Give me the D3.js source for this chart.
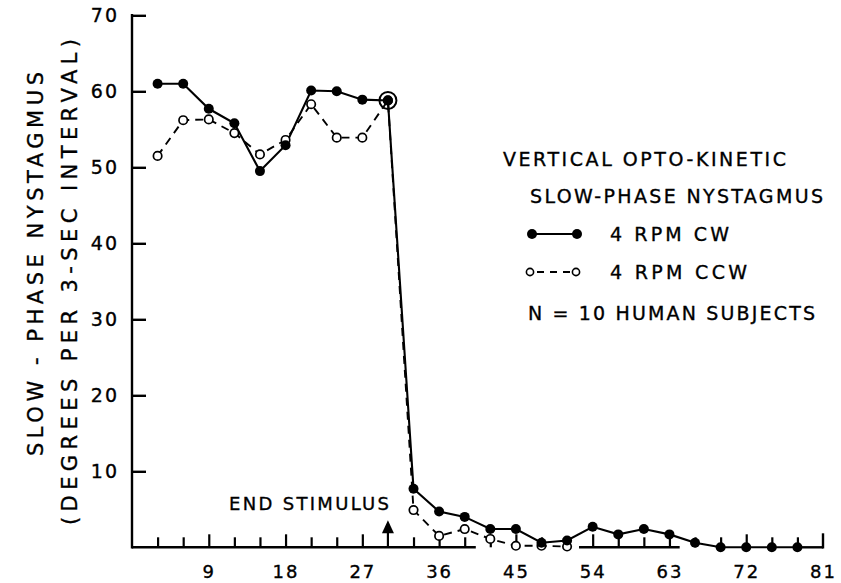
<!DOCTYPE html>
<html><head><meta charset="utf-8">
<script src="https://cdn.jsdelivr.net/npm/d3@7"></script>
<style>
body{margin:0;background:#fff;}
text{font-family:"DejaVu Sans",sans-serif;fill:#000;stroke:#000;stroke-width:0.35px;}
</style></head>
<body><svg id="c" width="841" height="583"></svg>
<script>
// ---- data ----
const timesCW = [3,6,9,12,15,18,21,24,27,30,33,36,39,42,45,48,51,54,57,60,63,66,69,72,75,78];
const valuesCW = [61,61,57.7,55.8,49.5,52.9,60.1,60.0,58.9,58.8,7.7,4.7,4.0,2.4,2.4,0.6,0.9,2.7,1.7,2.4,1.7,0.6,0,0,0,0];
const timesCCW = [3,6,9,12,15,18,21,24,27,30,33,36,39,42,45,48,51];
const valuesCCW = [51.5,56.2,56.3,54.5,51.7,53.6,58.3,53.9,53.9,58.8,4.9,1.5,2.4,1.1,0.2,0.2,0.1];
const yTicks = [10,20,30,40,50,60,70];
const xLabelTicks = [9,18,27,36,45,54,63,72,81];
const xMinorTicks = [3,6,12,15,21,24,33,39,42,48,51,57,60,66,69,75,78];
const stimulusTime = 30;
const axisSegments = [[0,40.3],[52.4,64.2],[78,81]];
const legendTitle = ["VERTICAL OPTO-KINETIC","SLOW-PHASE NYSTAGMUS"];
const seriesNames = ["4 RPM  CW","4 RPM  CCW"];
const noteText = "N = 10  HUMAN  SUBJECTS";
const yTitle1 = "SLOW - PHASE  NYSTAGMUS";
const yTitle2 = "(DEGREES  PER  3-SEC  INTERVAL)";

const svg = d3.select("#c");
const x = d3.scaleLinear().domain([0,81]).range([132,823]);
const y = d3.scaleLinear().domain([0,70]).range([547.3,15.3]);

// Y axis
const gy = svg.append("g").attr("transform",`translate(${x(0)},0)`)
  .call(d3.axisLeft(y).tickValues(yTicks).tickSize(-14).tickPadding(13).tickFormat(d3.format("d")));
gy.select(".domain").remove();
gy.selectAll(".tick line").attr("stroke","#000").attr("stroke-width",2.4);
gy.selectAll(".tick text").attr("font-size",19).attr("letter-spacing",2).attr("font-family","DejaVu Sans");
svg.append("line").attr("x1",x(0)).attr("x2",x(0)).attr("y1",y(70)-1.2).attr("y2",y(0)+1.2)
  .attr("stroke","#000").attr("stroke-width",2.4);

// X axis baseline segments
svg.selectAll("line.base").data(axisSegments).enter().append("line").attr("class","base")
  .attr("x1",d=>x(d[0])).attr("x2",d=>x(d[1])).attr("y1",y(0)).attr("y2",y(0))
  .attr("stroke","#000").attr("stroke-width",2.4);
svg.append("line").attr("x1",x(81)).attr("x2",x(81)).attr("y1",y(0)+1.2).attr("y2",y(0)-14)
  .attr("stroke","#000").attr("stroke-width",2.4);

const gx = svg.append("g").attr("transform",`translate(0,${y(0)})`)
  .call(d3.axisBottom(x).tickValues(xLabelTicks).tickSize(-13).tickPadding(18).tickFormat(d3.format("d")));
gx.select(".domain").remove();
gx.selectAll(".tick line").attr("stroke","#000").attr("stroke-width",2.2).filter(d=>d===81).remove();
gx.selectAll(".tick text").attr("font-size",18).attr("letter-spacing",2).attr("font-family","DejaVu Sans");
const gxm = svg.append("g").attr("transform",`translate(0,${y(0)})`)
  .call(d3.axisBottom(x).tickValues(xMinorTicks).tickSize(-10).tickFormat(""));
gxm.select(".domain").remove();
gxm.selectAll(".tick line").attr("stroke","#000").attr("stroke-width",2.2);

// stimulus arrow
const ax = x(stimulusTime);
svg.append("line").attr("x1",ax).attr("x2",ax).attr("y1",y(0)).attr("y2",y(0)-16)
  .attr("stroke","#000").attr("stroke-width",2.2);
svg.append("path").attr("d",`M${ax},${y(0)-27}L${ax-6},${y(0)-14}L${ax+6},${y(0)-14}Z`).attr("fill","#000");
svg.append("text").attr("x",229).attr("y",510).attr("font-size",18)
  .attr("textLength",160).attr("lengthAdjust","spacing").text("END STIMULUS");

// series
const cw = timesCW.map((t,i)=>({t,v:valuesCW[i]}));
const ccw = timesCCW.map((t,i)=>({t,v:valuesCCW[i]}));
const line = d3.line().x(d=>x(d.t)).y(d=>y(d.v));
svg.append("path").datum(ccw).attr("d",line).attr("fill","none").attr("stroke","#000")
  .attr("stroke-width",1.9).attr("stroke-dasharray","8,6");
svg.append("path").datum(cw).attr("d",line).attr("fill","none").attr("stroke","#000")
  .attr("stroke-width",2.1);
svg.selectAll("circle.ccw").data(ccw).enter().append("circle").attr("class","ccw")
  .attr("cx",d=>x(d.t)).attr("cy",d=>y(d.v)).attr("r",4.2)
  .attr("fill","#fff").attr("stroke","#000").attr("stroke-width",1.7);
svg.selectAll("circle.cw").data(cw).enter().append("circle").attr("class","cw")
  .attr("cx",d=>x(d.t)).attr("cy",d=>y(d.v)).attr("r",5).attr("fill","#000");
const last = cw.find(d=>d.t===stimulusTime);
svg.append("circle").attr("cx",x(last.t)).attr("cy",y(last.v)).attr("r",8.5)
  .attr("fill","none").attr("stroke","#000").attr("stroke-width",2);

// legend
const lg = svg.append("g");
lg.append("text").attr("x",503).attr("y",166).attr("font-size",19).attr("textLength",283).attr("lengthAdjust","spacing").text(legendTitle[0]);
lg.append("text").attr("x",530).attr("y",203).attr("font-size",19).attr("textLength",293).attr("lengthAdjust","spacing").text(legendTitle[1]);
lg.append("line").attr("x1",532).attr("x2",577).attr("y1",234).attr("y2",234).attr("stroke","#000").attr("stroke-width",2.1);
lg.selectAll("circle.l1").data([532,577]).enter().append("circle").attr("cx",d=>d).attr("cy",234).attr("r",5).attr("fill","#000");
lg.append("text").attr("x",610).attr("y",241).attr("font-size",19).attr("textLength",119).attr("lengthAdjust","spacing").text(seriesNames[0]);
lg.append("line").attr("x1",534).attr("x2",572).attr("y1",272).attr("y2",272).attr("stroke","#000").attr("stroke-width",1.8).attr("stroke-dasharray","7,6").attr("stroke-dashoffset",-3);
lg.selectAll("circle.l2").data([530,576]).enter().append("circle").attr("cx",d=>d).attr("cy",272).attr("r",3.6).attr("fill","#fff").attr("stroke","#000").attr("stroke-width",1.6);
lg.append("text").attr("x",610).attr("y",279).attr("font-size",19).attr("textLength",137).attr("lengthAdjust","spacing").text(seriesNames[1]);
lg.append("text").attr("x",528).attr("y",320).attr("font-size",19).attr("textLength",287).attr("lengthAdjust","spacing").text(noteText);

// y titles
svg.append("text").attr("transform","translate(43,264) rotate(-90)").attr("text-anchor","middle")
  .attr("font-size",21).attr("textLength",384).attr("lengthAdjust","spacing").text(yTitle1);
svg.append("text").attr("transform","translate(77,282) rotate(-90)").attr("text-anchor","middle")
  .attr("font-size",21).attr("textLength",486).attr("lengthAdjust","spacing").text(yTitle2);
</script></body></html>
